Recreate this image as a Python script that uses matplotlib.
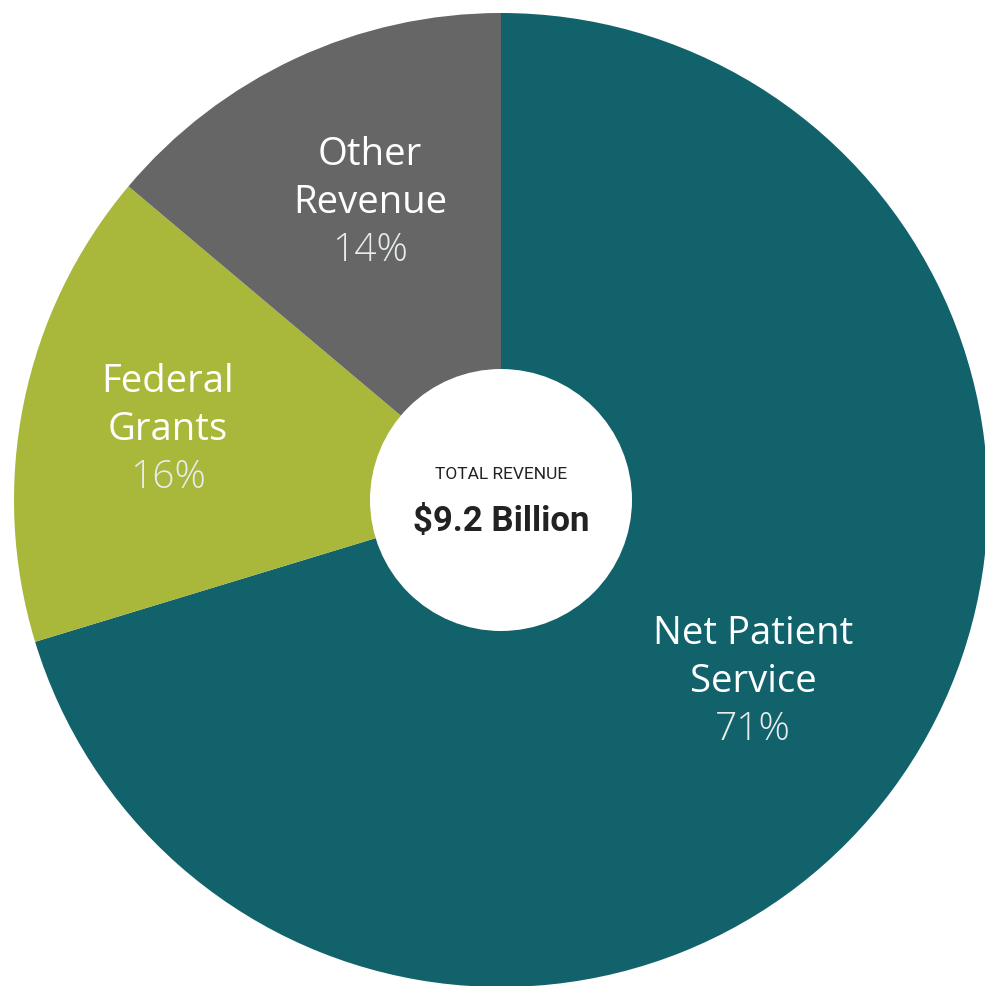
import matplotlib.pyplot as plt
from matplotlib.patches import Circle

# доли выручки, %
categories = ["Net Patient\nService", "Federal\nGrants", "Other\nRevenue"]
shares = [71, 16, 14]
colors = ["#12626B", "#A9B73A", "#666666"]
total_title = "TOTAL REVENUE"
total_value = "$9.2 Billion"

W, H = 985, 987
fig = plt.figure(figsize=(W / 100, H / 100), dpi=100)
ax = fig.add_axes([0, 0, 1, 1])

cx, cy, r = 501, H - 501, 487
ax.pie(shares, colors=colors, startangle=90, counterclock=False,
       center=(cx, cy), radius=r, frame=True,
       wedgeprops=dict(linewidth=0))
ax.set_xlim(0, W)
ax.set_ylim(0, H)
ax.set_aspect("equal")
ax.axis("off")

# белый круг в центре
ax.add_patch(Circle((cx, cy), 131, facecolor="white", edgecolor="none", zorder=5))

# подписи секторов: (x, y верхней строки) в пикселях от верхнего левого угла
label_pos = [(753, 634), (168, 382), (370, 155)]
for name, val, (x, y) in zip(categories, shares, label_pos):
    lines = name.split("\n")
    for i, line in enumerate(lines):
        ax.text(x, H - (y + 48 * i), line, ha="center", va="center",
                fontsize=27.5, color="white", family="Open Sans", zorder=6)
    ax.text(x, H - (y + 48 * len(lines)), f"{val}%", ha="center", va="center",
            fontsize=28, color="#E8ECEC", family="Open Sans", fontweight="light", zorder=6)

ax.text(cx, H - 475, total_title, ha="center", va="center", fontsize=12.5,
        color="#222222", family="Roboto", zorder=6)
ax.text(cx, H - 522, total_value, ha="center", va="center", fontsize=25,
        color="#222222", family="Roboto", fontweight="bold", zorder=6)

fig.savefig("out.png", dpi=100)
